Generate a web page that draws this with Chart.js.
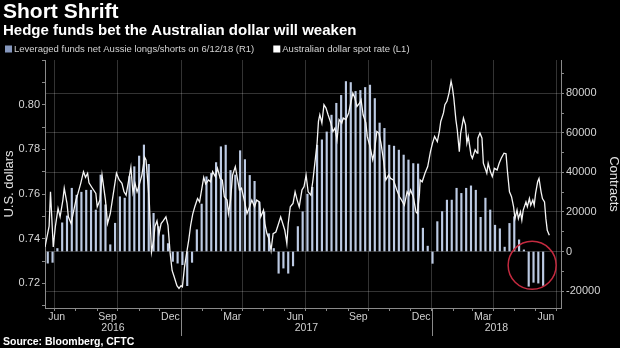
<!DOCTYPE html>
<html>
<head>
<meta charset="utf-8">
<script src="https://cdn.jsdelivr.net/npm/chart.js@4.4.1/dist/chart.umd.min.js"></script>
<style>
  html, body { margin: 0; padding: 0; background: #000; }
  #wrap { width: 620px; height: 348px; }
</style>
</head>
<body>
<div id="wrap"><canvas id="myChart" width="620" height="348"></canvas></div>
<script>
// days counted from 1 Jan 2017
function day(y, m, d) {
  return (Date.UTC(y, m - 1, d) - Date.UTC(2017, 0, 1)) / 86400000;
}

var xMin = day(2016, 6, 17);
var xMax = day(2018, 7, 8);

// leveraged funds net Aussie longs/shorts, weekly (Tuesdays) 21 Jun 2016 .. 12 Jun 2018
var firstWeek = day(2016, 6, 21);
var netPositions = [
  -5900, -5500, 1500, 14500, 18000, 32000, 28500, 30000, 31000, 31000,
  21000, 38700, 23600, 3400, 14300, 27700, 27000, 37900, 42900, 48300,
  53900, 44100, 19300, 12600, 8400, 4000, -5000, -5900, -6700, -17300,
  -5500, 11000, 24000, 37800, 39500, 45000, 53000, 53800, 41000, 38700,
  51000, 46500, 38500, 35500, 25000, 20000, 9000, 1500, -11000, -8400,
  -11000, -7300, 12600, 20100, 29000, 32500, 53800, 56500, 60500, 69000,
  75000, 79000, 86000, 85500, 81000, 81500, 83000, 84200, 77400, 65000,
  62300, 53800, 53300, 51300, 48800, 46300, 44500, 44300, 11800, 2700,
  -6000, 15100, 20200, 26000, 26000, 32000, 29400, 32000, 33200, 31000,
  17300, 27000, 21000, 13300, 11500, 2200, 14200, 17600, 5900, 800,
  -17600, -15600, -16000, -17200
];

// AUD/USD spot, day offsets from 1 Jan 2017
var spotDay = [
  -198, -192, -190, -186, -183, -179, -176, -172, -170, -166, -164, -160, -157, -153, -150, -146, -142, -139, -136, -134,
  -129, -124, -122, -118, -115, -113, -110, -107, -103, -100, -97, -94, -90, -86, -83, -80, -77, -73, -70, -67,
  -64, -61, -57, -53, -51, -48, -46, -43, -40, -38, -35, -32, -29, -26, -22, -19, -16, -13, -10, -6,
  -3, 0, 2, 5, 8, 11, 14, 17, 20, 24, 27, 30, 33, 36, 40, 43, 46, 50, 53, 57,
  60, 63, 67, 69, 72, 75, 79, 82, 85, 88, 92, 96, 99, 103, 107, 110, 114, 116, 120, 122,
  125, 128, 131, 134, 138, 142, 145, 148, 151, 154, 156, 159, 163, 166, 169, 172, 176, 179, 182, 185,
  189, 192, 195, 198, 200, 202, 205, 208, 211, 214, 218, 221, 224, 227, 230, 234, 236, 240, 244, 247,
  250, 253, 256, 260, 262, 265, 269, 271, 275, 279, 281, 285, 288, 291, 295, 298, 302, 305, 309, 314,
  318, 321, 325, 329, 332, 334, 338, 342, 344, 347, 348, 351, 355, 359, 363, 366, 369, 373, 376, 378,
  382, 384, 387, 390, 393, 395, 397, 400, 402, 405, 407, 411, 414, 416, 418, 422, 424, 428, 431, 432,
  435, 438, 440, 445, 447, 450, 453, 456, 460, 463, 466, 470, 473, 475, 478, 481, 484, 486, 489, 491,
  494, 496, 498, 502, 504, 507, 509, 512, 514, 516, 519, 521, 524, 526, 529, 531, 533, 536
];
var spotRate = [
  0.7363, 0.7456, 0.7610, 0.7363, 0.7453, 0.7536, 0.7498, 0.7573, 0.7626, 0.7558, 0.7498, 0.7468, 0.7513, 0.7573, 0.7603, 0.7648, 0.7700, 0.7675, 0.7693, 0.7650,
  0.7626, 0.7603, 0.7543, 0.7573, 0.7685, 0.7640, 0.7573, 0.7468, 0.7513, 0.7573, 0.7633, 0.7693, 0.7663, 0.7648, 0.7610, 0.7595, 0.7648, 0.7720, 0.7606, 0.7648,
  0.7610, 0.7640, 0.7685, 0.7765, 0.7753, 0.7640, 0.7550, 0.7340, 0.7390, 0.7455, 0.7480, 0.7423, 0.7468, 0.7480, 0.7498, 0.7460, 0.7340, 0.7258, 0.7230, 0.7190,
  0.7178, 0.7190, 0.7185, 0.7273, 0.7333, 0.7390, 0.7460, 0.7510, 0.7543, 0.7580, 0.7565, 0.7620, 0.7675, 0.7645, 0.7663, 0.7655, 0.7700, 0.7678, 0.7715, 0.7670,
  0.7663, 0.7588, 0.7573, 0.7513, 0.7573, 0.7685, 0.7723, 0.7670, 0.7618, 0.7626, 0.7573, 0.7513, 0.7536, 0.7573, 0.7543, 0.7573, 0.7565, 0.7498, 0.7528, 0.7468,
  0.7423, 0.7400, 0.7348, 0.7423, 0.7430, 0.7468, 0.7498, 0.7468, 0.7438, 0.7378, 0.7468, 0.7543, 0.7558, 0.7610, 0.7573, 0.7543, 0.7618, 0.7633, 0.7685, 0.7610,
  0.7595, 0.7663, 0.7745, 0.7828, 0.7925, 0.7955, 0.7918, 0.8000, 0.7985, 0.7955, 0.7918, 0.7880, 0.7895, 0.7843, 0.7933, 0.7918, 0.7940, 0.7933, 0.7963, 0.8008,
  0.8052, 0.8030, 0.7992, 0.8008, 0.8022, 0.7955, 0.7918, 0.7858, 0.7813, 0.7753, 0.7783, 0.7880, 0.7873, 0.7828, 0.7745, 0.7663, 0.7685, 0.7670, 0.7663, 0.7618,
  0.7588, 0.7573, 0.7550, 0.7610, 0.7595, 0.7618, 0.7588, 0.7520, 0.7513, 0.7603, 0.7663, 0.7655, 0.7693, 0.7723, 0.7790, 0.7828, 0.7858, 0.7835, 0.7880, 0.7925,
  0.7963, 0.8000, 0.8015, 0.8052, 0.8105, 0.8075, 0.8030, 0.7933, 0.7888, 0.7790, 0.7873, 0.7940, 0.7910, 0.7828, 0.7858, 0.7775, 0.7760, 0.7798, 0.7783, 0.7850,
  0.7873, 0.7850, 0.7738, 0.7693, 0.7738, 0.7703, 0.7678, 0.7715, 0.7708, 0.7738, 0.7760, 0.7783, 0.7780, 0.7703, 0.7610, 0.7588, 0.7543, 0.7490, 0.7528, 0.7490,
  0.7520, 0.7483, 0.7528, 0.7565, 0.7543, 0.7580, 0.7550, 0.7573, 0.7550, 0.7603, 0.7655, 0.7670, 0.7610, 0.7580, 0.7565, 0.7490, 0.7438, 0.7416
];

var monthLabels = ['Jun', 'Sep', 'Dec', 'Mar', 'Jun', 'Sep', 'Dec', 'Mar', 'Jun'];
var monthLabelYears = [2016, 2016, 2016, 2017, 2017, 2017, 2017, 2018, 2018];
var yearLabels = ['2016', '2017', '2018'];
var leftLabels = [0.72, 0.74, 0.76, 0.78, 0.80];
var rightLabels = [-20000, 0, 20000, 40000, 60000, 80000];

var monthNames = ['Jan', 'Feb', 'Mar', 'Apr', 'May', 'Jun', 'Jul', 'Aug', 'Sep', 'Oct', 'Nov', 'Dec'];
var gridColor = 'rgba(255,255,255,0.2)';
var axisColor = '#8a8a8a';
var clear = 'rgba(0,0,0,0)';

// x ticks: month boundaries (marks, quarter grid lines) plus label positions
var xTicks = [];
for (var yy = 2016; yy <= 2018; yy++) {
  for (var mm = 1; mm <= 12; mm++) {
    var d0 = day(yy, mm, 1);
    if (d0 > xMin && d0 < xMax) xTicks.push({ value: d0, label: '', kind: (mm % 3 === 1) ? 'quarter' : 'month' });
  }
}
monthLabels.forEach(function (name, i) {
  var m = monthNames.indexOf(name) + 1;
  var start = day(monthLabelYears[i], m, 1);
  var end = day(monthLabelYears[i], m + 1, 1);
  var pos = start < xMin ? xMin + 17 : (start + end) / 2;
  xTicks.push({ value: pos, label: name, kind: 'label' });
});
yearLabels.forEach(function (yr) {
  var y = Number(yr);
  var a = Math.max(day(y, 1, 1), xMin);
  var b = Math.min(day(y + 1, 1, 1), xMax);
  xTicks.push({ value: (a + b) / 2, label: ['', yr], kind: 'label' });
});
xTicks.sort(function (a, b) { return a.value - b.value; });

var barPoints = netPositions.map(function (v, i) { return { x: firstWeek + 7 * i, y: v }; });
var spotPoints = spotDay.map(function (d, i) { return { x: d, y: spotRate[i] }; });

var extras = {
  id: 'extras',
  afterDraw: function (chart) {
    var ctx = chart.ctx;
    var x = chart.scales.x;
    var yR = chart.scales.yR;
    var area = chart.chartArea;
    ctx.save();

    // legend row
    ctx.font = '9.5px "Liberation Sans", Arial, sans-serif';
    ctx.textBaseline = 'middle';
    ctx.textAlign = 'left';
    var lx = 5, ly = 49;
    chart.data.datasets.forEach(function (ds) {
      ctx.fillStyle = ds.legendColor;
      ctx.fillRect(lx, ly - 3.5, 7, 7);
      ctx.fillStyle = '#d4d4d4';
      ctx.fillText(ds.label, lx + 9, ly);
      lx += 9 + ctx.measureText(ds.label).width + 19;
    });

    // year separators under the axis
    ctx.strokeStyle = axisColor;
    ctx.lineWidth = 1;
    [day(2017, 1, 1), day(2018, 1, 1)].forEach(function (d) {
      var px = Math.round(x.getPixelForValue(d)) + 0.5;
      ctx.beginPath();
      ctx.moveTo(px, area.bottom);
      ctx.lineTo(px, area.bottom + 28);
      ctx.stroke();
    });

    // red circle round the latest shorts
    ctx.strokeStyle = '#c42a3f';
    ctx.lineWidth = 1.5;
    ctx.beginPath();
    ctx.arc(x.getPixelForValue(day(2018, 5, 27)), yR.getPixelForValue(-7000), 24, 0, Math.PI * 2);
    ctx.stroke();

    // source
    ctx.font = 'bold 10.5px "Liberation Sans", Arial, sans-serif';
    ctx.fillStyle = '#ffffff';
    ctx.textBaseline = 'alphabetic';
    ctx.fillText('Source: Bloomberg, CFTC', 3, 345);
    ctx.restore();
  }
};

Chart.defaults.font.family = '"Liberation Sans", Arial, sans-serif';
Chart.defaults.color = '#d6d6d6';

var ctx = document.getElementById('myChart').getContext('2d');
var chart = new Chart(ctx, {
  type: 'bar',
  data: {
    datasets: [
      {
        label: 'Leveraged funds net Aussie longs/shorts on 6/12/18 (R1)',
        data: barPoints,
        yAxisID: 'yR',
        backgroundColor: '#bccae3',
        legendColor: '#8597bd',
        borderWidth: 0,
        barThickness: 1.5,
        order: 2
      },
      {
        type: 'line',
        label: 'Australian dollar spot rate (L1)',
        data: spotPoints,
        yAxisID: 'yL',
        borderColor: '#f5f5f5',
        backgroundColor: '#ffffff',
        legendColor: '#ffffff',
        borderWidth: 1.3,
        pointRadius: 0,
        tension: 0,
        fill: false,
        order: 1
      }
    ]
  },
  options: {
    responsive: false,
    animation: false,
    events: [],
    layout: { padding: { left: 3, right: 0, top: 0, bottom: 0 } },
    plugins: {
      legend: { display: false },
      tooltip: { enabled: false },
      title: {
        display: true,
        text: 'Short Shrift',
        align: 'start',
        color: '#ffffff',
        font: { size: 21, weight: 'bold', lineHeight: 1 },
        padding: { top: 2, bottom: 0 }
      },
      subtitle: {
        display: true,
        text: 'Hedge funds bet the Australian dollar will weaken',
        align: 'start',
        color: '#ffffff',
        font: { size: 15, weight: 'bold', lineHeight: 1 },
        padding: { top: 0, bottom: 22 }
      }
    },
    scales: {
      x: {
        type: 'linear',
        min: xMin,
        max: xMax,
        offset: false,
        afterBuildTicks: function (scale) {
          scale.ticks = xTicks.map(function (t) { return { value: t.value }; });
        },
        afterFit: function (scale) { scale.height = 40; },
        ticks: {
          autoSkip: false,
          maxRotation: 0,
          minRotation: 0,
          padding: 0,
          color: '#d0d0d0',
          font: { size: 10.5, lineHeight: 1.1 },
          callback: function (value, index) { return xTicks[index] ? xTicks[index].label : ''; }
        },
        grid: {
          offset: false,
          tickLength: 3,
          color: function (c) { return xTicks[c.index] && xTicks[c.index].kind === 'quarter' ? gridColor : clear; },
          tickColor: function (c) { return xTicks[c.index] && xTicks[c.index].kind === 'label' ? clear : axisColor; }
        },
        border: { color: axisColor }
      },
      yL: {
        position: 'left',
        min: 0.709,
        max: 0.82,
        afterBuildTicks: function (scale) {
          var t = [];
          for (var k = 71; k <= 82; k++) t.push({ value: k / 100 });
          scale.ticks = t;
        },
        afterFit: function (scale) { scale.width = 42; },
        ticks: {
          padding: 2,
          color: '#d6d6d6',
          font: { size: 11 },
          callback: function (value) {
            var hit = leftLabels.some(function (v) { return Math.round(v * 100) === Math.round(value * 100); });
            return hit ? value.toFixed(2) : '';
          }
        },
        grid: { drawOnChartArea: false, tickLength: 3, tickColor: axisColor },
        border: { color: axisColor },
        title: {
          display: true,
          text: 'U.S. dollars',
          color: '#e2e2e2',
          font: { size: 13, lineHeight: 1 },
          padding: 0
        }
      },
      yR: {
        position: 'right',
        min: -28600,
        max: 96900,
        afterBuildTicks: function (scale) {
          var t = [];
          for (var v = -20000; v <= 90000; v += 10000) t.push({ value: v });
          scale.ticks = t;
        },
        afterFit: function (scale) { scale.width = 59; },
        ticks: {
          padding: 2,
          color: '#d6d6d6',
          font: { size: 11 },
          callback: function (value) { return rightLabels.indexOf(value) >= 0 ? String(value) : ''; }
        },
        grid: {
          tickLength: 3,
          tickColor: axisColor,
          color: function (c) { return c.tick && c.tick.value % 20000 === 0 ? gridColor : clear; }
        },
        border: { color: axisColor },
        title: {
          display: true,
          text: 'Contracts',
          color: '#e2e2e2',
          font: { size: 13, lineHeight: 1 },
          padding: 0
        }
      }
    }
  },
  plugins: [extras]
});
</script>
</body>
</html>
